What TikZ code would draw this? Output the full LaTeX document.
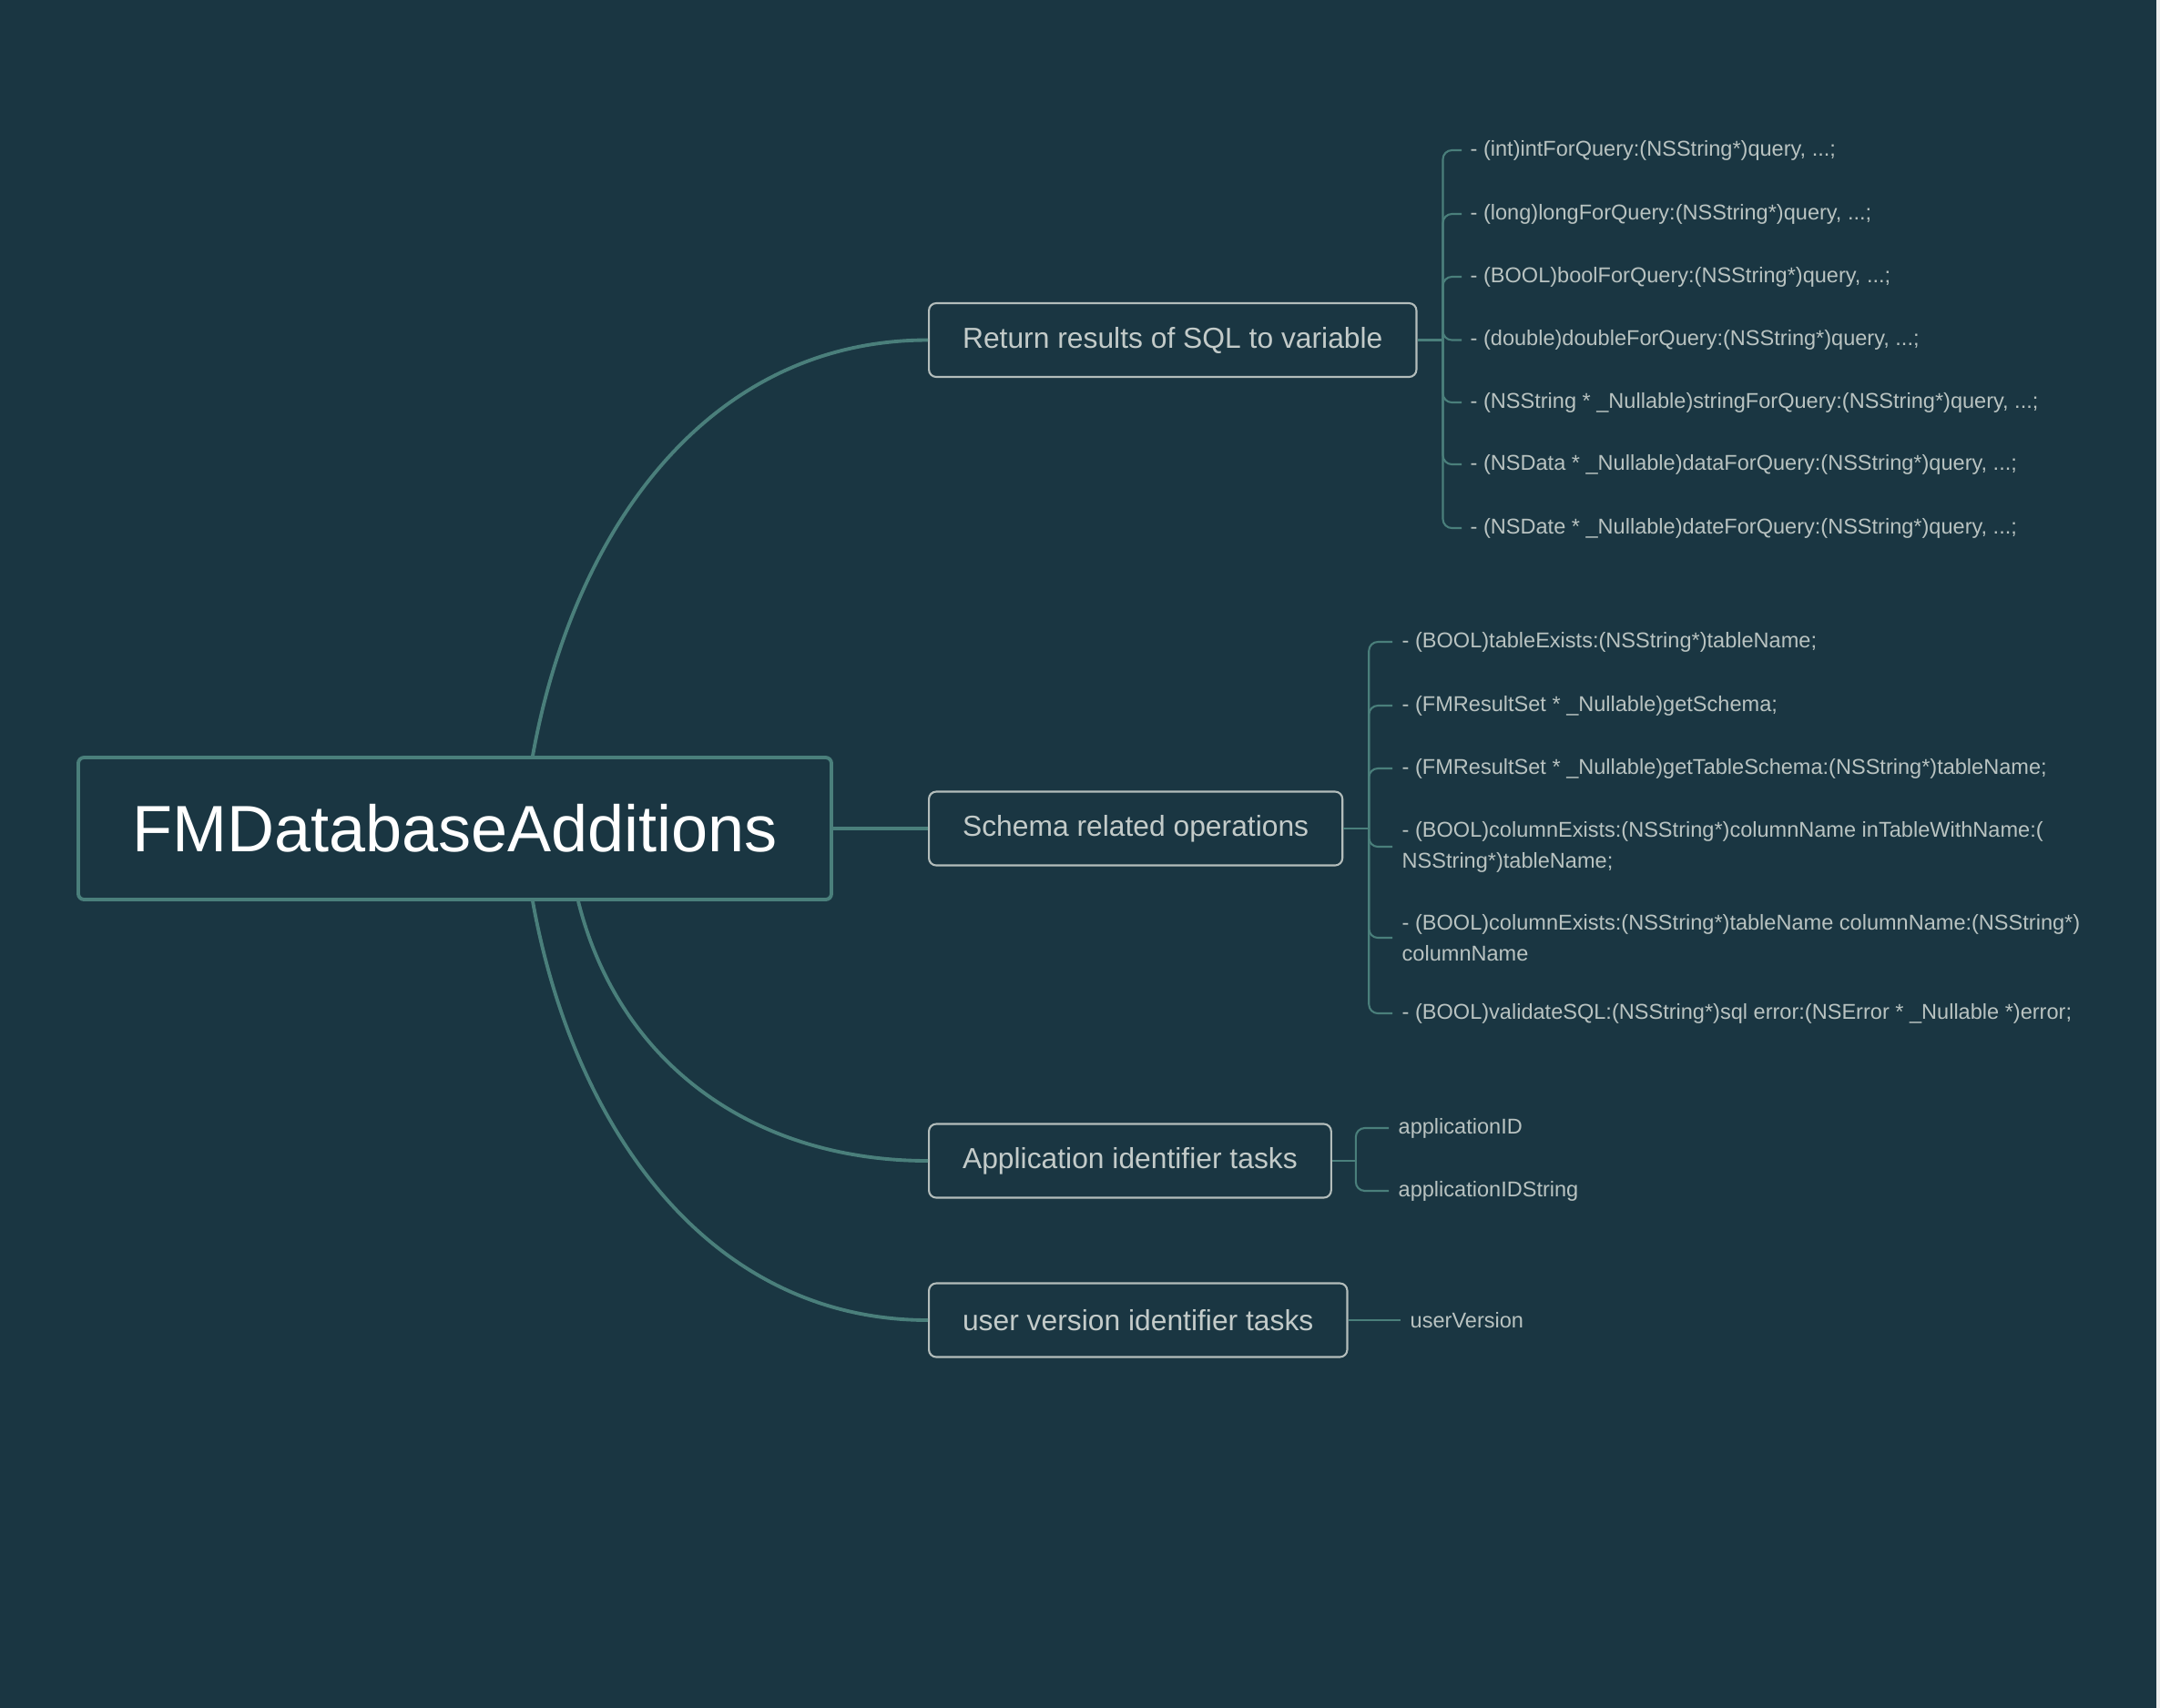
\documentclass[tikz,border=0pt]{standalone}
\usepackage{fontspec}
\setmainfont{Liberation Sans}
\usetikzlibrary{positioning}
\definecolor{bg}{HTML}{1A3642}
\definecolor{branch}{HTML}{4A7F7B}
\definecolor{boxline}{HTML}{B3BDBB}
\definecolor{soft}{HTML}{C3CBC9}
\definecolor{leaftext}{HTML}{B9C3C1}

\begin{document}
\begin{tikzpicture}[
  rootbox/.style={draw=branch, line width=1.1pt, rounded corners=1.8pt, fill=bg, text=white,
    minimum width=8.27cm, minimum height=1.56cm, font=\fontsize{20.5}{24}\selectfont},
  topic/.style={draw=boxline, line width=0.6pt, rounded corners=2.3pt, text=soft, anchor=west,
    minimum height=0.81cm, inner xsep=0.37cm, font=\fontsize{9.05}{11}\selectfont},
  leaf/.style={text=leaftext, inner sep=0pt, anchor=west, align=left,
    font=\fontsize{6.7}{9.7}\selectfont},
  branchline/.style={draw=branch, line width=1.1pt},
  leafline/.style={draw=branch, line width=0.6pt, rounded corners=2.8pt}
]
\fill[bg] (0,0) rectangle (23.72,-18.76);
\fill[white!93!black] (23.68,0) rectangle (23.72,-18.76);

\node[rootbox] (root) at (4.995,-9.10) {FMDatabaseAdditions};

\node[topic] (ret) at (10.19,-3.735) {Return results of SQL to variable};
\node[topic] (sch) at (10.19,-9.10) {Schema related operations};
\node[topic] (app) at (10.19,-12.75) {Application identifier tasks};
\node[topic] (usr) at (10.19,-14.50) {user version identifier tasks};

\draw[branchline] ([xshift=0.855cm]root.north) .. controls +(0.45,2.5) and +(-2.4,0) .. (ret.west);
\draw[branchline] (root.east) -- (sch.west);
\draw[branchline] ([xshift=1.355cm]root.south) .. controls +(0.45,-1.8) and +(-1.9,0) .. (app.west);
\draw[branchline] ([xshift=0.855cm]root.south) .. controls +(0.45,-2.5) and +(-2.4,0) .. (usr.west);

% query results
\node[leaf] (r1) at (16.14,-1.65) {- (int)intForQuery:(NSString*)query, ...;};
\node[leaf] (r2) at (16.14,-2.35) {- (long)longForQuery:(NSString*)query, ...;};
\node[leaf] (r3) at (16.14,-3.04) {- (BOOL)boolForQuery:(NSString*)query, ...;};
\node[leaf] (r4) at (16.14,-3.735) {- (double)doubleForQuery:(NSString*)query, ...;};
\node[leaf] (r5) at (16.14,-4.42) {- (NSString * \_Nullable)stringForQuery:(NSString*)query, ...;};
\node[leaf] (r6) at (16.14,-5.10) {- (NSData * \_Nullable)dataForQuery:(NSString*)query, ...;};
\node[leaf] (r7) at (16.14,-5.80) {- (NSDate * \_Nullable)dateForQuery:(NSString*)query, ...;};
\coordinate[right=0.28cm of ret] (retj);
\draw[leafline] (ret.east) -- (retj);
\draw[leafline] (retj) |- ([xshift=-0.09cm]r1.west);
\draw[leafline] (retj) |- ([xshift=-0.09cm]r2.west);
\draw[leafline] (retj) |- ([xshift=-0.09cm]r3.west);
\draw[leafline] (retj) |- ([xshift=-0.09cm]r4.west);
\draw[leafline] (retj) |- ([xshift=-0.09cm]r5.west);
\draw[leafline] (retj) |- ([xshift=-0.09cm]r6.west);
\draw[leafline] (retj) |- ([xshift=-0.09cm]r7.west);

% schema
\node[leaf] (s1) at (15.39,-7.05) {- (BOOL)tableExists:(NSString*)tableName;};
\node[leaf] (s2) at (15.39,-7.75) {- (FMResultSet * \_Nullable)getSchema;};
\node[leaf] (s3) at (15.39,-8.44) {- (FMResultSet * \_Nullable)getTableSchema:(NSString*)tableName;};
\node[leaf] (s4) at (15.39,-9.30) {- (BOOL)columnExists:(NSString*)columnName inTableWithName:(\\NSString*)tableName;};
\node[leaf] (s5) at (15.39,-10.30) {- (BOOL)columnExists:(NSString*)tableName columnName:(NSString*)\\columnName};
\node[leaf] (s6) at (15.39,-11.13) {- (BOOL)validateSQL:(NSString*)sql error:(NSError * \_Nullable *)error;};
\coordinate[right=0.28cm of sch] (schj);
\draw[leafline] (sch.east) -- (schj);
\draw[leafline] (schj) |- ([xshift=-0.1cm]s1.west);
\draw[leafline] (schj) |- ([xshift=-0.1cm]s2.west);
\draw[leafline] (schj) |- ([xshift=-0.1cm]s3.west);
\draw[leafline] (schj) |- ([xshift=-0.1cm]s4.west);
\draw[leafline] (schj) |- ([xshift=-0.1cm]s5.west);
\draw[leafline] (schj) |- ([xshift=-0.1cm]s6.west);

% application id
\node[leaf] (a1) at (15.35,-12.39) {applicationID};
\node[leaf] (a2) at (15.35,-13.08) {applicationIDString};
\coordinate[right=0.26cm of app] (appj);
\draw[leafline] (app.east) -- (appj);
\draw[leafline] (appj) |- ([xshift=-0.1cm]a1.west);
\draw[leafline] (appj) |- ([xshift=-0.1cm]a2.west);

% user version
\node[leaf] (u1) at (15.48,-14.50) {userVersion};
\draw[leafline] (usr.east) -- ([xshift=-0.1cm]u1.west);
\end{tikzpicture}
\end{document}
